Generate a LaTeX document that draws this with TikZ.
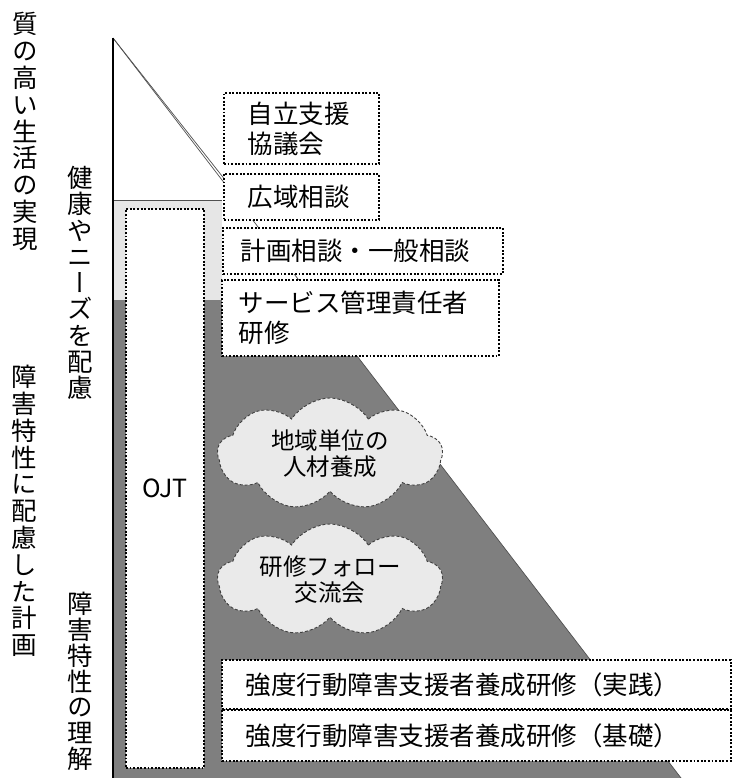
\documentclass[tikz,border=0pt]{standalone}
\usepackage{fontspec}
\setmainfont{Noto Sans CJK JP}
\newfontfamily\vfont[RawFeature=+vert]{Noto Sans CJK JP}
\usetikzlibrary{shapes.symbols}
\definecolor{darkband}{HTML}{7F7F7F}
\definecolor{lightband}{HTML}{E6E6E6}
\definecolor{cloudfill}{HTML}{EAEAEA}
\definecolor{edgegray}{HTML}{505050}
\tikzset{
  dotbox/.style={draw=black, fill=white, line width=1.9pt, dash pattern=on 1.9pt off 1.7pt,
    inner ysep=0pt, align=left, font=\fontsize{25.5}{30}\selectfont, anchor=north west},
  vtext/.style={align=center, inner sep=0pt, font=\vfont\fontsize{25.5}{26.8}\selectfont},
  cloudnode/.style={cloud, cloud puffs=9, cloud puff arc=115, cloud ignores aspect,
    draw=black!75, fill=cloudfill, dash pattern=on 3pt off 2pt, line width=0.9pt,
    align=center, font=\fontsize{23.5}{26}\selectfont,
    minimum width=225pt, minimum height=112pt, inner sep=0pt},
  edge line/.style={draw=edgegray, line width=0.7pt}
}
\begin{document}
\begin{tikzpicture}[x=1pt,y=-1pt]
\useasboundingbox (0,0) rectangle (734,778);
% pyramid
\coordinate (apex) at (113,38);
\coordinate (base) at (681,778);
\coordinate (darktop) at (314,300);
\coordinate (leftbot) at (113,778);
\fill[darkband] (113,300) -- (darktop) -- (base) -- (leftbot) -- cycle;
\fill[lightband] (113,200) rectangle (222,300);
\draw[edgegray, line width=1pt] (113,200) -- (222,200);
\draw[edge line] (apex) -- (base);
\draw[edge line] (apex) -- (224,178.5);
\draw[black, line width=1.6pt] (apex) -- (leftbot);

% vertical labels
\node[vtext] (lifeq) at (25,131.5) {質\\の\\高\\い\\生\\活\\の\\実\\現};
\node[vtext] (plan) at (24,511) {障\\害\\特\\性\\に\\配\\慮\\し\\た\\計\\画};
\node[vtext, font=\vfont\fontsize{25.5}{26.3}\selectfont] (health) at (80,283) {健\\康\\や\\ニ\\ー\\ズ\\を\\配\\慮};
\node[vtext, font=\vfont\fontsize{25.5}{25.8}\selectfont] (underst) at (80,681.5) {障\\害\\特\\性\\の\\理\\解};

% OJT
\node[dotbox, align=center, minimum width=78pt, minimum height=559pt, inner sep=0pt,
  font=\fontsize{25}{28}\selectfont] (ojt) at (125,208) {OJT};

% boxes
\node[dotbox, inner xsep=24pt, text width=107pt, minimum height=71pt] (jiritsu) at (223,92) {自立支援\\協議会};
\node[dotbox, inner xsep=24pt, text width=107pt, minimum height=46pt] (kouiki) at (223,173) {広域相談};
\node[dotbox, inner xsep=18pt, text width=244pt, minimum height=46pt] (keikaku) at (222,227) {計画相談・一般相談};
\node[dotbox, inner xsep=17pt, text width=243pt, minimum height=76pt] (service) at (221,279) {サービス管理責任者\\研修};
\node[dotbox, inner xsep=24pt, text width=461pt, minimum height=49pt] (jissen) at (221,659) {強度行動障害支援者養成研修（実践）};
\node[dotbox, inner xsep=24pt, text width=461pt, minimum height=51pt] (kiso) at (221,709) {強度行動障害支援者養成研修（基礎）};

% clouds
\node[cloudnode] (chiiki) at (330,454) {地域単位の\\人材養成};
\node[cloudnode] (follow) at (330,580) {研修フォロー\\交流会};
\end{tikzpicture}
\end{document}
